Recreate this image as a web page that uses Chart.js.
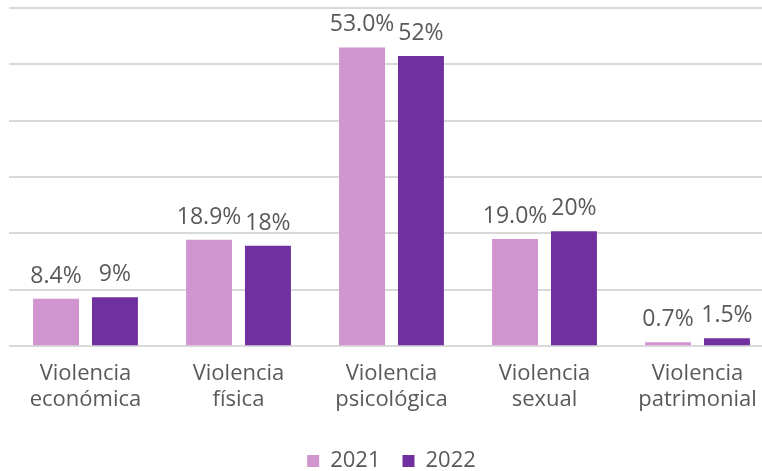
<!DOCTYPE html>
<html>
<head>
<meta charset="utf-8">
<script src="https://cdn.jsdelivr.net/npm/chart.js@4.4.0/dist/chart.umd.min.js"></script>
<style>
  html, body { margin: 0; padding: 0; background: #fff; overflow: hidden; }
  #wrap { width: 783px; height: 482px; }
</style>
</head>
<body>
<div id="wrap"><canvas id="chart"></canvas></div>
<script>
// Data
const categories = [
  ["Violencia", "económica"],
  ["Violencia", "física"],
  ["Violencia", "psicológica"],
  ["Violencia", "sexual"],
  ["Violencia", "patrimonial"],
];
const values2021 = [8.4, 18.9, 53.0, 19.0, 0.7];
const values2022 = [8.7, 17.8, 51.5, 20.4, 1.4];
const labels2021 = ["8.4%", "18.9%", "53.0%", "19.0%", "0.7%"];
const labels2022 = ["9%", "18%", "52%", "20%", "1.5%"];
const yTicks = [0, 10, 20, 30, 40, 50, 60];

const textColor = "#595959";
const fontFamily = "'Open Sans', 'DejaVu Sans', sans-serif";

// draws the value text above each bar
const valueLabels = {
  id: "valueLabels",
  afterDatasetsDraw(chart) {
    const ctx = chart.ctx;
    ctx.save();
    ctx.font = `23px ${fontFamily}`;
    ctx.fillStyle = textColor;
    ctx.textAlign = "center";
    ctx.textBaseline = "alphabetic";
    chart.data.datasets.forEach((ds, i) => {
      const meta = chart.getDatasetMeta(i);
      meta.data.forEach((bar, j) => {
        ctx.fillText(ds.valueText[j], bar.x, bar.y - 16);
      });
    });
    ctx.restore();
  },
};

const data = {
  labels: categories,
  datasets: [
    {
      label: "2021",
      data: values2021,
      valueText: labels2021,
      backgroundColor: "#D094CF",
      barPercentage: 0.78,
      categoryPercentage: 0.77,
    },
    {
      label: "2022",
      data: values2022,
      valueText: labels2022,
      backgroundColor: "#7030A0",
      barPercentage: 0.78,
      categoryPercentage: 0.77,
    },
  ],
};

const config = {
  type: "bar",
  data: data,
  options: {
    responsive: true,
    maintainAspectRatio: false,
    animation: false,
    layout: { padding: { left: 9, right: 9, top: 8, bottom: 0 } },
    plugins: {
      tooltip: { enabled: false },
      legend: {
        position: "bottom",
        labels: {
          boxWidth: 12,
          boxHeight: 12,
          padding: 22,
          color: textColor,
          font: { family: fontFamily, size: 22 },
        },
      },
    },
    scales: {
      x: {
        grid: { display: false },
        border: { display: false },
        afterFit: (axis) => {
          axis.height += 9;
        },
        ticks: {
          color: textColor,
          font: { family: fontFamily, size: 22, lineHeight: 1.2 },
          padding: 6,
          maxRotation: 0,
          autoSkip: false,
        },
      },
      y: {
        min: yTicks[0],
        max: yTicks[yTicks.length - 1],
        afterBuildTicks: (axis) => {
          axis.ticks = yTicks.map((v) => ({ value: v }));
        },
        ticks: { display: false },
        border: { display: false },
        grid: { color: "#D9D9D9", lineWidth: 2, drawTicks: false },
      },
    },
  },
  plugins: [valueLabels],
};

new Chart(document.getElementById("chart"), config);
</script>
</body>
</html>
